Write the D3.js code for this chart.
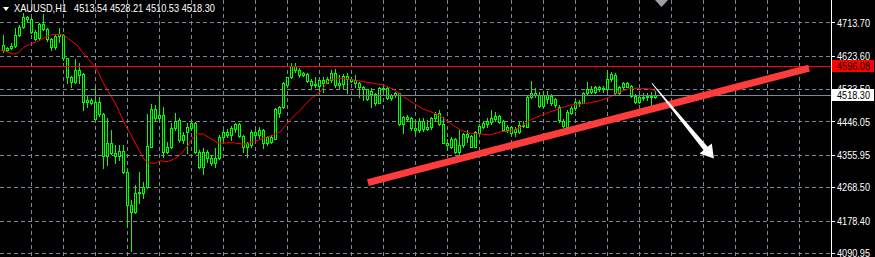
<!DOCTYPE html>
<html>
<head>
<meta charset="utf-8">
<script src="https://cdn.jsdelivr.net/npm/d3@7"></script>
<style>
  html, body { margin: 0; padding: 0; background: #000; }
  svg { display: block; }
</style>
</head>
<body>
<svg id="chart" width="875" height="257"></svg>
<script>
// XAUUSD H1 candles, oldest on the left
const opens = [4653.5,4640,4646.3,4650.8,4680.5,4701.2,4728.2,4722.8,4689.5,4671.5,
  4710.2,4695.8,4668.8,4647.2,4677.8,4680.5,4617.5,4566.2,4554.5,4586,
  4575.2,4500.5,4505,4454.6,4499.6,4466.3,4354.7,4388,4361,4354.7,
  4368.2,4311.5,4221.5,4203.5,4253,4254.8,4269.2,4379,4480.7,4455.5,
  4464.5,4365.5,4377.2,4428.5,4451,4397,4419.5,4428.5,4442,4365.5,
  4323.2,4365.5,4347.5,4334,4347.5,4404.2,4419.5,4410.5,4426.7,4440.2,
  4407.8,4379,4383.5,4419.5,4410.5,4424,4389.8,4404.2,4400.6,4470.8,
  4485.2,4545.5,4566.2,4596.8,4586,4572.5,4575.2,4557.2,4545.5,4542.8,
  4559,4551.8,4559,4578.8,4545.5,4548.2,4569.8,4560.8,4559,4550,
  4541,4533.8,4521.2,4521.2,4497.8,4536.5,4536.5,4509.5,4518.5,4523,
  4440.2,4458.2,4456.4,4428.5,4424,4449.2,4425.8,4431.2,4455.5,4469,
  4440.2,4389.8,4379,4398.8,4365.5,4383.5,4413.2,4407.8,4379,4416.8,
  4433,4440.2,4446.5,4452.8,4461.8,4449.2,4424,4431.2,4419.5,4419.5,
  4437.5,4433,4512.2,4524.8,4518.5,4488.8,4518.5,4515.8,4506.8,4485.2,
  4449.2,4433,4470.8,4482.5,4500.5,4497.8,4523,4533.8,4527.5,4539.2,
  4533.8,4533.8,4560.8,4572.5,4523,4539.2,4551.8,4542.8,4515.8,4500.5,
  4514,4512.2,4515.8,4513.54];
const highs = [4680.5,4649,4658,4698.5,4707.5,4739,4731.8,4725.5,4694,4712,
  4737.2,4698.5,4671.5,4680.5,4698.5,4683.2,4619.3,4569.8,4614.8,4604,
  4577,4518.5,4509.5,4539.2,4512.2,4469,4455.5,4424,4383.5,4383.5,
  4383.5,4314.2,4235,4275.5,4309.7,4284.5,4467.2,4494.2,4491.5,4515.8,
  4487,4392.5,4442,4469,4455.5,4419.5,4442,4451,4446.5,4370,
  4374.5,4370,4356.5,4374.5,4410.5,4424,4425.8,4434.8,4443.8,4443.8,
  4410.5,4392.5,4424,4424,4431.2,4427.6,4407.8,4410.5,4482.5,4488.8,
  4552.7,4568,4604,4605.8,4590.5,4581.5,4577,4560.8,4568,4563.5,
  4568,4568,4586,4587.8,4572.5,4575.2,4578.8,4566.2,4572.5,4554.5,
  4542.8,4535.6,4536.5,4524.8,4541,4542.8,4539.2,4521.2,4527.5,4524.8,
  4461.8,4464.5,4458.2,4451,4455.5,4455.5,4451,4460,4473.5,4478,
  4460,4398.8,4404.2,4401.5,4424,4416.8,4424,4410.5,4422.2,4440.2,
  4449.2,4455.5,4478,4473.5,4464.5,4451,4437.5,4434.8,4431.2,4446.5,
  4449.2,4515.8,4557.2,4536.5,4527.5,4530.2,4530.2,4521.2,4509.5,4491.5,
  4452.8,4478,4488.8,4505,4505,4527.5,4554.5,4542.8,4542.8,4542.8,
  4542.8,4586,4581.5,4577,4542.8,4554.5,4554.5,4544.6,4521.2,4518.5,
  4523,4524.8,4527.5,4528.21];
const lows = [4635.5,4636.4,4641.8,4647.2,4677.8,4698.5,4716.5,4686.8,4667,4668.8,
  4694,4665.2,4640,4641.8,4662.5,4613,4550,4541,4551.8,4551.8,
  4478,4487,4494.2,4451,4461.8,4320.5,4329.5,4359.2,4335.8,4343,
  4308.8,4163,4098.2,4199,4226,4239.5,4266.5,4377.2,4451,4451,
  4352,4362.8,4374.5,4424,4392.5,4388,4361,4424,4361,4320.5,
  4305.2,4338.5,4329.5,4325,4345.7,4392.5,4404.2,4397,4419.5,4406,
  4365.5,4352,4379,4397,4401.5,4374.5,4383.5,4388,4398.8,4460,
  4482.5,4542.8,4563.5,4581.5,4566.2,4569.8,4554.5,4536.5,4539.2,4532,
  4527.5,4550,4554.5,4541,4536.5,4536.5,4524.8,4554.5,4539.2,4514,
  4505,4505,4487,4491.5,4496,4527.5,4506.8,4505,4514,4437.5,
  4416.8,4449.2,4424,4415,4419.5,4422.2,4424,4425.8,4451,4437.5,
  4388,4370,4374.5,4361,4353.8,4379,4392.5,4377.2,4377.2,4415,
  4428.5,4433,4440.2,4449.2,4443.8,4422.2,4419.5,4410.5,4407.8,4416.8,
  4431.2,4431.2,4509.5,4514,4485.2,4487,4496,4491.5,4487,4446.5,
  4431.2,4431.2,4467.2,4478,4488.8,4496,4518.5,4523,4524.8,4530.2,
  4527.5,4532,4557.2,4518.5,4521.2,4536.5,4539.2,4512.2,4497.8,4496,
  4505,4505,4491.5,4510.53];
const closes = [4640,4646.3,4650.8,4680.5,4703,4728.2,4722.8,4689.5,4668.8,4710.2,
  4695.8,4668.8,4647.2,4677.8,4683.2,4617.5,4566.2,4554.5,4586,4572.5,
  4500.5,4505,4497.8,4499.6,4466.3,4354.7,4388,4361,4354.7,4368.2,
  4311.5,4221.5,4203.5,4253,4257.5,4271,4380.8,4480.7,4455.5,4464.5,
  4365.5,4379,4428.5,4449.2,4397,4410.5,4431.2,4442,4365.5,4323.2,
  4365.5,4347.5,4334,4347.5,4406,4419.5,4410.5,4428.5,4440.2,4407.8,
  4379,4388,4419.5,4410.5,4424,4389.8,4404.2,4391.6,4479.8,4485.2,
  4550,4566.2,4596.8,4586,4572.5,4577,4557.2,4545.5,4548.2,4559,
  4551.8,4562.6,4577,4545.5,4550,4569.8,4560.8,4557.2,4550,4539.2,
  4533.8,4506.8,4528.4,4497.8,4536.5,4533.8,4509.5,4518.5,4524.8,4440.2,
  4458.2,4454.6,4428.5,4424,4449.2,4425.8,4431.2,4455.5,4467.2,4440.2,
  4389.8,4383.5,4398.8,4365.5,4383.5,4413.2,4406,4379,4419.5,4434.8,
  4442,4449.2,4455.5,4461.8,4446.5,4424,4431.2,4415,4425.8,4437.5,
  4434.8,4514,4524.8,4518.5,4488.8,4518.5,4506.8,4496,4491.5,4451,
  4434.8,4473.5,4482.5,4500.5,4496,4524.8,4533.8,4527.5,4539.2,4533.8,
  4536.5,4560.8,4575.2,4523,4539.2,4551.8,4541,4515.8,4500.5,4514,
  4512.2,4515.8,4512.2,4518.30];

// moving average (bar index, price)
const maIdx = [-0.8,0.9,2.5,3.8,5,6.7,8.4,10,11.7,13.4,15,16.7,18.4,19.6,21.3,22.5,23.8,25,26.7,28.4,
  30.4,31.7,33.4,35,35.9,37.9,39.2,40.9,42.5,44.2,45.9,47.5,48.5,50,51.7,53.4,54.2,57.5,60,62.5,
  65,67.5,69.2,71.7,74.2,76.7,79.2,80.9,81.7,84.2,86.7,90,92.5,95,97.5,100,102.5,105,107.5,109.2,
  111.7,114.2,116.7,119.2,121.7,124.2,126.7,129.2,131.7,134.2,136.7,139.2,141.7,144.2,146.7,149.2,
  151.7,154.2,156.7,159.2,161.7,163];
const maVal = [4640,4635.4,4628.4,4632.7,4647.3,4656.2,4662.4,4671.6,4680.5,4682.4,4680.5,4667,4653.5,4635.4,4614.9,4599.5,4577.1,4550.1,4518.5,4486.9,
  4437.5,4415.1,4378.9,4347.6,4335.7,4334.1,4341.1,4338.4,4344.9,4356.5,4378.9,4405.9,4413.2,4413.2,4401.6,4390,4388.9,4389.7,4385.4,4392.4,
  4401.6,4410.5,4419.4,4451,4478,4506.9,4527.4,4550.1,4559,4563.6,4560.9,4554.4,4550.1,4545.5,4533.9,4513.9,4496.1,4479.9,4470.7,4461.8,
  4442.1,4424,4415.1,4413.2,4410.5,4419.4,4421.3,4431.3,4451,4462.6,4473.4,4482.6,4491.5,4494.2,4497.7,4503.1,
  4513.9,4527.4,4536.6,4536.6,4534.7,4530.1];

const priceTicks = [4713.70, 4623.60, 4533.50, 4446.05, 4355.95, 4268.50, 4178.40, 4090.95];
const levelPrice = 4596.08;
const bidPrice = 4518.30;
const trendIdx = [91.1, 201.4];
const trendPrice = [4282, 4591];
const arrowIdx = [162.1, 177.6];
const arrowPrice = [4550, 4347];
const symbol = "XAUUSD,H1";
const lastOhlc = [4513.54, 4528.21, 4510.53, 4518.30];

const svg = d3.select("#chart");
const width = 875, height = 257;
const plotRight = 831;

const x = d3.scaleLinear().domain([0, 163]).range([3.5, 655.5]);
const y = d3.scaleLinear().domain([4090.95, 4713.70]).range([253.4, 22.7]);
const crisp = (v) => Math.floor(v) + 0.5;

svg.append("rect").attr("width", width).attr("height", height).attr("fill", "#000");

// grid
const grid = svg.append("g").attr("stroke", "#778899").attr("stroke-dasharray", "4,3").attr("stroke-width", 1);
grid.selectAll(".hgrid")
  .data(priceTicks)
  .enter()
  .append("line")
  .attr("x1", 0)
  .attr("x2", plotRight)
  .attr("y1", (d) => crisp(y(d)))
  .attr("y2", (d) => crisp(y(d)));
grid.selectAll(".vgrid")
  .data(d3.range(7, 200, 8).filter((i) => x(i) < plotRight - 2))
  .enter()
  .append("line")
  .attr("x1", (d) => crisp(x(d)))
  .attr("x2", (d) => crisp(x(d)))
  .attr("y1", 0)
  .attr("y2", height);

// candles
const bars = d3.range(opens.length).map((i) => ({
  i, o: opens[i], h: highs[i], l: lows[i], c: closes[i]
}));
const candles = svg.append("g");
candles.selectAll(".wick")
  .data(bars)
  .enter()
  .append("line")
  .attr("x1", (d) => crisp(x(d.i)))
  .attr("x2", (d) => crisp(x(d.i)))
  .attr("y1", (d) => Math.round(y(d.h)))
  .attr("y2", (d) => Math.round(y(d.l)) + 1)
  .attr("stroke", "#00ff00");
candles.selectAll(".body")
  .data(bars)
  .enter()
  .append("rect")
  .attr("x", (d) => Math.floor(x(d.i)) - 0.5)
  .attr("width", 2)
  .attr("y", (d) => Math.round(y(Math.max(d.o, d.c))) + 0.5)
  .attr("height", (d) => Math.max(1, Math.round(y(Math.min(d.o, d.c))) - Math.round(y(Math.max(d.o, d.c)))))
  .attr("fill", "#000")
  .attr("stroke", "#00ff00");

// moving average
const maLine = d3.line().x((d) => x(d[0])).y((d) => y(d[1]));
svg.append("path")
  .attr("d", maLine(d3.zip(maIdx, maVal)))
  .attr("fill", "none")
  .attr("stroke", "#ff0000")
  .attr("stroke-width", 1);

// horizontal level and bid line
svg.append("line")
  .attr("x1", 0).attr("x2", plotRight)
  .attr("y1", crisp(y(levelPrice))).attr("y2", crisp(y(levelPrice)))
  .attr("stroke", "#ff0000");
svg.append("line")
  .attr("x1", 0).attr("x2", plotRight)
  .attr("y1", crisp(y(bidPrice))).attr("y2", crisp(y(bidPrice)))
  .attr("stroke", "#778899");

// trend line
svg.append("line")
  .attr("x1", x(trendIdx[0])).attr("y1", y(trendPrice[0]))
  .attr("x2", x(trendIdx[1])).attr("y2", y(trendPrice[1]))
  .attr("stroke", "#ff3c3c")
  .attr("stroke-width", 7);

// arrow
const ax0 = x(arrowIdx[0]), ay0 = y(arrowPrice[0]);
const ax1 = x(arrowIdx[1]), ay1 = y(arrowPrice[1]);
const len = Math.hypot(ax1 - ax0, ay1 - ay0);
const ux = (ax1 - ax0) / len, uy = (ay1 - ay0) / len;
const nx = -uy, ny = ux;
const headLen = 13, headHalf = 8, shaftHalf = 2.6;
const bx = ax1 - ux * headLen, by = ay1 - uy * headLen;
const arrowPts = [
  [ax0 + nx * 0.4, ay0 + ny * 0.4],
  [bx + nx * shaftHalf, by + ny * shaftHalf],
  [bx + nx * headHalf, by + ny * headHalf],
  [ax1, ay1],
  [bx - nx * headHalf, by - ny * headHalf],
  [bx - nx * shaftHalf, by - ny * shaftHalf],
  [ax0 - nx * 0.4, ay0 - ny * 0.4]
];
svg.append("polygon")
  .attr("points", arrowPts.map((p) => p.join(",")).join(" "))
  .attr("fill", "#ffffff");

// chart shift marker
svg.append("polygon")
  .attr("points", "655,0 668,0 661.5,7")
  .attr("fill", "#a0a0a4");

// price axis
const axis = svg.append("g");
axis.append("rect")
  .attr("x", plotRight + 1).attr("y", 0)
  .attr("width", width - plotRight - 1).attr("height", height)
  .attr("fill", "#000");
axis.append("line")
  .attr("x1", plotRight + 0.5).attr("x2", plotRight + 0.5)
  .attr("y1", 0).attr("y2", height)
  .attr("stroke", "#ffffff");
axis.selectAll(".tick")
  .data(priceTicks)
  .enter()
  .append("line")
  .attr("x1", plotRight + 1).attr("x2", plotRight + 4)
  .attr("y1", (d) => crisp(y(d))).attr("y2", (d) => crisp(y(d)))
  .attr("stroke", "#ffffff");
axis.selectAll(".label")
  .data(priceTicks)
  .enter()
  .append("text")
  .attr("x", 837)
  .attr("y", (d) => y(d) + 3.8)
  .attr("textLength", 33)
  .attr("lengthAdjust", "spacingAndGlyphs")
  .style("font-family", "Liberation Sans, Arial, sans-serif")
  .style("font-size", "10px")
  .style("fill", "#ffffff")
  .text((d) => d.toFixed(2));

// level and bid price tags
const tag = (price, bg, fg) => {
  const cy = y(price);
  axis.append("rect")
    .attr("x", plotRight + 1).attr("y", Math.round(cy) - 6)
    .attr("width", 42).attr("height", 12)
    .attr("fill", bg);
  axis.append("text")
    .attr("x", 837)
    .attr("y", cy + 3.8)
    .attr("textLength", 33)
    .attr("lengthAdjust", "spacingAndGlyphs")
    .style("font-family", "Liberation Sans, Arial, sans-serif")
    .style("font-size", "10px")
    .style("fill", fg)
    .text(price.toFixed(2));
};
tag(levelPrice, "#ff0000", "#000000");
tag(bidPrice, "#ffffff", "#000000");

// header
svg.append("polygon")
  .attr("points", "3,7 9,7 6,11")
  .attr("fill", "#ffffff");
svg.append("text")
  .attr("x", 14).attr("y", 12)
  .attr("textLength", 53)
  .attr("lengthAdjust", "spacingAndGlyphs")
  .style("font-family", "Liberation Sans, Arial, sans-serif")
  .style("font-size", "10.5px")
  .style("fill", "#ffffff")
  .text(symbol);
svg.append("text")
  .attr("x", 74).attr("y", 12)
  .attr("textLength", 141)
  .attr("lengthAdjust", "spacingAndGlyphs")
  .style("font-family", "Liberation Sans, Arial, sans-serif")
  .style("font-size", "10.5px")
  .style("fill", "#ffffff")
  .text(lastOhlc.map((v) => v.toFixed(2)).join(" "));
</script>
</body>
</html>
